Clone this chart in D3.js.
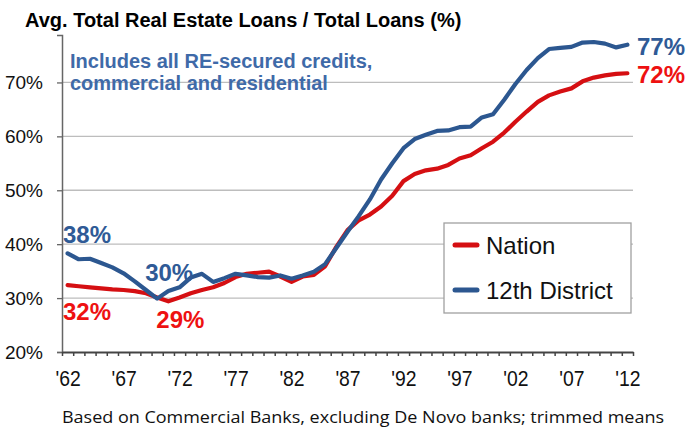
<!DOCTYPE html>
<html>
<head>
<meta charset="utf-8">
<script src="https://cdn.jsdelivr.net/npm/d3@7/dist/d3.min.js"></script>
<style>
  html, body { margin: 0; padding: 0; background: #fff; }
  svg { display: block; }
  text { font-family: "Liberation Sans", Arial, sans-serif; }
</style>
</head>
<body>
<svg id="chart" width="700" height="432"></svg>
<script>
// Average total real estate loans as a share of total loans (%), 1962-2012
const years = d3.range(1962, 2013);
const nation = [
  32.4, 32.2, 32.0, 31.8, 31.6, 31.5, 31.3, 30.9, 30.1, 29.4,
  30.1, 30.9, 31.5, 32.0, 32.8, 33.9, 34.5, 34.7, 34.9, 34.0,
  33.0, 34.0, 34.3, 35.9, 39.5, 42.6, 44.4, 45.5, 47.0, 49.0,
  51.7, 53.0, 53.7, 54.0, 54.7, 55.9, 56.5, 57.8, 59.0, 60.7,
  62.7, 64.6, 66.4, 67.6, 68.3, 68.9, 70.2, 70.9, 71.3, 71.6, 71.7
];
const district12 = [
  38.3, 37.2, 37.3, 36.5, 35.7, 34.6, 33.1, 31.5, 29.9, 31.3,
  32.0, 33.8, 34.5, 33.0, 33.7, 34.5, 34.2, 33.9, 33.8, 34.2,
  33.6, 34.2, 34.9, 36.3, 39.3, 42.3, 45.2, 48.3, 52.0, 55.0,
  57.8, 59.5, 60.3, 61.0, 61.1, 61.7, 61.8, 63.5, 64.1, 66.8,
  69.7, 72.3, 74.5, 76.2, 76.4, 76.6, 77.4, 77.5, 77.2, 76.5, 77.0
];
const yTicks = [20, 30, 40, 50, 60, 70];
const xLabelYears = [1962, 1967, 1972, 1977, 1982, 1987, 1992, 1997, 2002, 2007, 2012];
const seriesNames = ["Nation", "12th District"];

const RED = "#d50f12";
const BLUE = "#2c5790";
const RED_LABEL = "#ee1111";
const BLUE_LABEL = "#2f5a96";

const svg = d3.select("#chart");

const x = d3.scaleLinear().domain([1961.5, 2012.5]).range([62, 633]);
const y = d3.scaleLinear().domain([20, 78.8]).range([352, 35]);

// gridlines
svg.append("g")
  .selectAll("line")
  .data(yTicks.filter(d => d > 20))
  .join("line")
  .attr("x1", x(1961.5)).attr("x2", x(2012.5))
  .attr("y1", d => y(d)).attr("y2", d => y(d))
  .attr("stroke", "#bdbdbd").attr("stroke-width", 1.3);

// y axis
const yAxis = svg.append("g")
  .attr("transform", `translate(${x(1961.5)},0)`)
  .call(d3.axisLeft(y).tickValues(yTicks).tickSize(5).tickPadding(14)
    .tickFormat(d => d + "%"));
yAxis.select(".domain").attr("stroke", "#666").attr("stroke-width", 1.5);
yAxis.selectAll(".tick line").attr("stroke", "#666").attr("stroke-width", 1.3);
yAxis.selectAll(".tick text")
  .attr("font-size", 19).attr("fill", "#111")
  .style("font-family", "'Liberation Sans', Arial, sans-serif");

// x axis: a tick between every year
const xMinor = svg.append("g")
  .attr("transform", `translate(0,${y(20)})`)
  .call(d3.axisBottom(x).tickValues(d3.range(1961.5, 2013, 1)).tickSize(4).tickSizeOuter(0)
    .tickFormat(""));
xMinor.select(".domain").attr("stroke", "#444").attr("stroke-width", 2);
xMinor.selectAll(".tick line").attr("stroke", "#444").attr("stroke-width", 1.5);

const xLab = svg.append("g")
  .attr("transform", `translate(0,${y(20)})`)
  .call(d3.axisBottom(x).tickValues(xLabelYears).tickSize(0).tickPadding(18)
    .tickFormat(d => "'" + String(d).slice(2)));
xLab.select(".domain").remove();
xLab.selectAll(".tick text")
  .attr("font-size", 22).attr("fill", "#111")
  .attr("transform", "scale(0.88,1)")
  .style("font-family", "'Liberation Sans', Arial, sans-serif");

// lines
const line = d3.line()
  .x((d, i) => x(years[i]))
  .y(d => y(d))
  .curve(d3.curveLinear);

svg.append("path")
  .datum(nation)
  .attr("d", line)
  .attr("fill", "none").attr("stroke", RED).attr("stroke-width", 4.2)
  .attr("stroke-linejoin", "round").attr("stroke-linecap", "round");

svg.append("path")
  .datum(district12)
  .attr("d", line)
  .attr("fill", "none").attr("stroke", BLUE).attr("stroke-width", 4.2)
  .attr("stroke-linejoin", "round").attr("stroke-linecap", "round");

// value labels
const labels = svg.append("g").attr("font-weight", "bold").attr("font-size", 24);
const iMinN = nation.indexOf(d3.min(nation));
const iMinD = district12.indexOf(d3.min(district12));
const last = years.length - 1;
const pct = v => Math.round(v) + "%";
labels.append("text").attr("x", 63).attr("y", y(district12[0]) - 10)
  .attr("fill", BLUE_LABEL).text(pct(district12[0]));
labels.append("text").attr("x", 63).attr("y", y(nation[0]) + 35)
  .attr("fill", RED_LABEL).text(pct(nation[0]));
labels.append("text").attr("x", x(years[iMinD]) - 12).attr("y", y(district12[iMinD]) - 18)
  .attr("fill", BLUE_LABEL).text(pct(district12[iMinD]));
labels.append("text").attr("x", x(years[iMinN]) - 12).attr("y", y(nation[iMinN]) + 27)
  .attr("fill", RED_LABEL).text(pct(nation[iMinN]));
labels.append("text").attr("x", 637).attr("y", y(district12[last]) + 10)
  .attr("fill", BLUE_LABEL).text(pct(district12[last]));
labels.append("text").attr("x", 637).attr("y", y(nation[last]) + 10)
  .attr("fill", RED_LABEL).text(pct(nation[last]));

// legend
const legend = svg.append("g");
legend.append("rect")
  .attr("x", 444).attr("y", 223).attr("width", 187).attr("height", 90)
  .attr("fill", "#fff").attr("stroke", "#a0a0a0").attr("stroke-width", 1.3);
const legendItems = [[seriesNames[0], RED, 245], [seriesNames[1], BLUE, 290]];
legendItems.forEach(([name, color, ly]) => {
  legend.append("line")
    .attr("x1", 455).attr("x2", 477).attr("y1", ly).attr("y2", ly)
    .attr("stroke", color).attr("stroke-width", 5).attr("stroke-linecap", "round");
  legend.append("text").attr("x", 486).attr("y", ly + 9)
    .attr("font-size", 24).attr("fill", "#111").text(name);
});

// title
svg.append("text").attr("x", 25).attr("y", 27)
  .attr("font-size", 20).attr("font-weight", "bold").attr("fill", "#000")
  .text("Avg. Total Real Estate Loans / Total Loans (%)");

// annotation
const note = svg.append("text").attr("x", 70).attr("y", 68)
  .attr("font-size", 20).attr("font-weight", "bold").attr("fill", "#3f6aa8");
note.append("tspan").attr("x", 70).text("Includes all RE-secured credits,");
note.append("tspan").attr("x", 70).attr("dy", 22).text("commercial and residential");

// footnote
svg.append("text").attr("x", 62).attr("y", 423)
  .attr("font-size", 16).attr("fill", "#111")
  .attr("textLength", 602).attr("lengthAdjust", "spacingAndGlyphs")
  .style("font-family", "'Open Sans', Lato, sans-serif")
  .text("Based on Commercial Banks, excluding De Novo banks; trimmed means");
</script>
</body>
</html>
